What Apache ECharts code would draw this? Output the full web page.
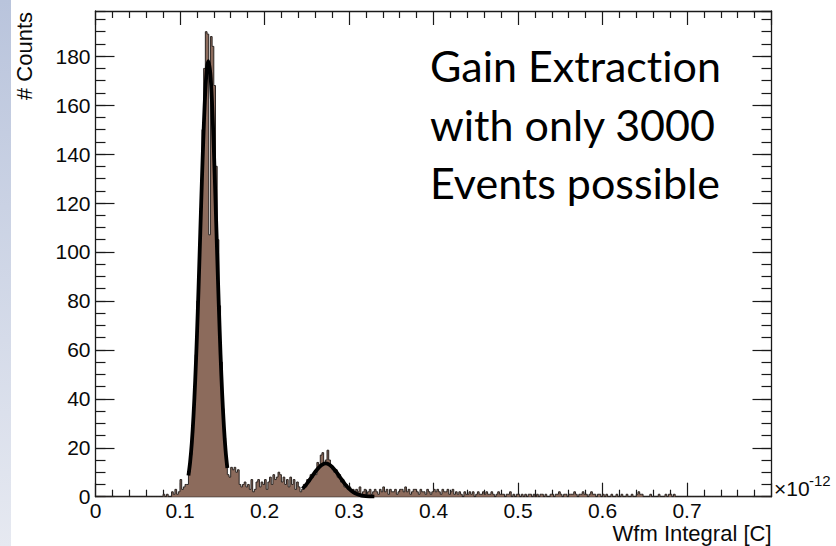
<!DOCTYPE html>
<html>
<head>
<meta charset="utf-8">
<script src="https://cdn.jsdelivr.net/npm/echarts@6/dist/echarts.min.js"></script>
<style>
  html, body { margin: 0; padding: 0; background: #ffffff; }
  #chart { width: 836px; height: 546px; }
  #chart text { font-variant-ligatures: none; font-feature-settings: "liga" 0, "clig" 0; }
</style>
</head>
<body>
<div id="chart"></div>
<script>
// Histogram of waveform integrals: 400 bins of 0.002e-12 C from 0 to 0.8e-12 C
const binStart = 0;
const binWidth = 0.002;
const counts = [
  0, 0, 0, 0, 0, 0, 0, 0, 0, 0,            // 0.000 - 0.020
  0, 0, 0, 0, 0, 0, 0, 0, 0, 0,
  0, 0, 0, 0, 0, 0, 0, 0, 0, 0,
  0, 0, 0, 0, 0, 0, 0, 0, 0, 0,
  1, 0, 1, 0, 0, 2, 1, 3, 1, 2,            // 0.080 - 0.100
  7, 3, 4, 5, 5, 10, 17, 26, 40, 58,
  80, 98, 118, 150, 175, 190, 189, 107, 188, 184,
  168, 135, 105, 78, 55, 36, 24, 15, 9, 8,
  12, 11, 12, 10, 11, 5, 4, 5, 6, 4,
  5, 3, 7, 2, 3, 6, 7, 4, 6, 5,
  7, 3, 6, 8, 5, 9, 7, 8, 10, 9,           // 0.200 - 0.220
  6, 8, 5, 7, 4, 8, 5, 7, 3, 6,
  4, 2, 3, 5, 4, 7, 6, 9, 8, 10,
  9, 14, 13, 17, 18, 14, 15, 19, 15, 12,
  11, 10, 11, 8, 9, 6, 7, 4, 5, 3,
  4, 2, 3, 1, 3, 2, 4, 1, 2, 3,
  1, 2, 3, 1, 2, 3, 2, 1, 3, 2,
  4, 2, 3, 1, 3, 2, 2, 3, 1, 2,
  3, 3, 2, 4, 2, 3, 1, 2, 3, 3,
  2, 1, 3, 2, 2, 1, 3, 2, 1, 2,
  3, 2, 3, 2, 1, 3, 2, 2, 3, 1,            // 0.400 - 0.420
  2, 3, 1, 2, 1, 2, 1, 0, 2, 1,
  1, 2, 1, 2, 0, 1, 2, 1, 1, 2,
  1, 2, 1, 1, 2, 1, 0, 1, 2, 1,
  1, 1, 0, 1, 1, 2, 0, 1, 0, 1,
  1, 0, 1, 0, 1, 0, 1, 1, 0, 1,
  0, 1, 0, 1, 1, 0, 1, 0, 0, 1,
  1, 0, 1, 1, 2, 1, 0, 1, 1, 0,
  1, 1, 1, 2, 1, 0, 1, 1, 2, 1,
  1, 0, 1, 2, 1, 1, 0, 1, 1, 0,
  1, 0, 1, 0, 0, 1, 0, 0, 1, 0,            // 0.600 - 0.620
  0, 1, 0, 0, 1, 0, 0, 1, 0, 0,
  1, 2, 1, 1, 0, 0, 0, 0, 1, 0,
  0, 0, 0, 1, 0, 0, 0, 1, 0, 1,
  1, 0, 1, 0, 0, 0, 0, 0, 0, 0,
  0, 0, 0, 0, 0, 0, 0, 0, 0, 0,
  0, 0, 0, 0, 0, 0, 0, 0, 0, 0,
  0, 0, 0, 0, 0, 0, 0, 0, 0, 0,
  0, 0, 0, 0, 0, 0, 0, 0, 0, 0,
  0, 0, 0, 0, 0, 0, 0, 0, 0, 0
];

// Gaussian fit of the single-photoelectron peak, sampled [x, counts]
const fitPeak1 = [
  [0.110, 8.7], [0.112, 14.2], [0.114, 22.1], [0.116, 33.2], [0.118, 47.5],
  [0.120, 65.2], [0.122, 85.8], [0.124, 108], [0.126, 130], [0.128, 150],
  [0.130, 166], [0.132, 175.5], [0.1336, 178], [0.134, 177.8], [0.136, 172.5],
  [0.138, 160.3], [0.140, 142.5], [0.142, 121.4], [0.144, 99], [0.146, 77.3],
  [0.148, 57.8], [0.150, 41.4], [0.152, 28.4], [0.154, 18.6], [0.156, 11.7]
];

// Gaussian fit of the two-photoelectron peak, sampled [x, counts]
const fitPeak2 = [
  [0.245, 3.28], [0.250, 5.25], [0.255, 7.64], [0.260, 10.13], [0.265, 12.23],
  [0.270, 13.44], [0.2725, 13.6], [0.275, 13.44], [0.280, 12.23], [0.285, 10.13],
  [0.290, 7.64], [0.295, 5.25], [0.300, 3.28], [0.305, 1.86], [0.310, 0.96],
  [0.315, 0.45], [0.320, 0.19], [0.325, 0.08], [0.330, 0.03]
];

const xTickLabels = ['0', '0.1', '0.2', '0.3', '0.4', '0.5', '0.6', '0.7'];
const yTickLabels = ['0', '20', '40', '60', '80', '100', '120', '140', '160', '180'];
const noteLines = ['Gain Extraction', 'with only 3000', 'Events possible'];

const X_MAX = 0.8;
const Y_MAX = 198.45;

// Step outline: each bin starts at its lower edge, last edge closes the histogram
const histPoints = counts.map((c, i) => [binStart + i * binWidth, c]);
histPoints.push([binStart + counts.length * binWidth, counts[counts.length - 1]]);

const axisColor = '#1a1a1a';
const labelFont = 'Liberation Sans, Arial, Helvetica, sans-serif';
const noteFont = 'Lato, Noto Sans, sans-serif';

function frameX(position, showLabels) {
  return {
    type: 'value', position: position, min: 0, max: X_MAX, interval: 0.1,
    axisLine: { show: true, onZero: false, lineStyle: { color: axisColor, width: 1.3 } },
    axisTick: { show: true, inside: true, length: 14, lineStyle: { color: axisColor, width: 1.2 } },
    minorTick: { show: true, splitNumber: 5, length: 7, lineStyle: { color: axisColor, width: 1.2 } },
    splitLine: { show: false }, minorSplitLine: { show: false },
    axisLabel: {
      show: showLabels, margin: 6, showMaxLabel: false, lineHeight: 16,
      fontFamily: labelFont, fontSize: 21, color: '#0a0a0a',
      formatter: v => xTickLabels[Math.round(v * 10)] || ''
    }
  };
}

function frameY(position, interval, len, showLine, showLabels) {
  return {
    type: 'value', position: position, min: 0, max: Y_MAX, interval: interval,
    axisLine: { show: showLine, onZero: false, lineStyle: { color: axisColor, width: 1.3 } },
    axisTick: { show: true, inside: true, length: len, lineStyle: { color: axisColor, width: 1.2 } },
    splitLine: { show: false },
    axisLabel: {
      show: showLabels, margin: 5, showMaxLabel: false,
      fontFamily: labelFont, fontSize: 21, color: '#0a0a0a',
      formatter: v => yTickLabels[Math.round(v / 20)] || ''
    }
  };
}

function noteText(line, y) {
  return {
    type: 'text', x: 430, y: y, z: 10,
    style: { text: line, fontFamily: noteFont, fontSize: 43, fill: '#000000', align: 'left', verticalAlign: 'middle' }
  };
}

const chart = echarts.init(document.getElementById('chart'), null, { renderer: 'svg' });

chart.setOption({
  animation: false,
  backgroundColor: '#ffffff',
  grid: { left: 95.5, right: 64.5, top: 11, bottom: 49.3, containLabel: false },
  xAxis: [frameX('bottom', true), frameX('top', false)],
  yAxis: [
    frameY('left', 20, 19, true, true),
    frameY('left', 5, 10, false, false),
    frameY('right', 20, 19, true, false),
    frameY('right', 5, 10, false, false)
  ],
  series: [
    {
      name: 'counts', type: 'line', step: 'end',
      xAxisIndex: 0, yAxisIndex: 0,
      data: histPoints, showSymbol: false, symbol: 'none',
      lineStyle: { color: '#2b2522', width: 1 },
      areaStyle: { color: '#8c6b5c', opacity: 1 },
      z: 2
    },
    {
      name: 'fit1', type: 'line', xAxisIndex: 0, yAxisIndex: 0,
      data: fitPeak1, smooth: 0.3, showSymbol: false, symbol: 'none',
      lineStyle: { color: '#000000', width: 3.8 }, z: 3
    },
    {
      name: 'fit2', type: 'line', xAxisIndex: 0, yAxisIndex: 0,
      data: fitPeak2, smooth: 0.3, showSymbol: false, symbol: 'none',
      lineStyle: { color: '#000000', width: 3.8 }, z: 3
    }
  ],
  graphic: [
    {
      type: 'rect', left: 0, top: 0, z: 0,
      shape: { width: 11, height: 546 },
      style: {
        fill: new echarts.graphic.LinearGradient(0, 0, 0, 1, [
          { offset: 0, color: '#b9c4dc' },
          { offset: 1, color: '#e6e9f1' }
        ])
      }
    },
    {
      type: 'text', x: 24, y: 12, rotation: Math.PI / 2, z: 10,
      style: { text: '# Counts', fontFamily: labelFont, fontSize: 22, fill: '#0a0a0a', align: 'right', verticalAlign: 'middle' }
    },
    {
      type: 'text', x: 771.5, y: 533, z: 10,
      style: { text: 'Wfm Integral [C]', fontFamily: labelFont, fontSize: 22, lineHeight: 18, fill: '#0a0a0a', align: 'right', verticalAlign: 'middle' }
    },
    {
      type: 'text', x: 774, y: 488, z: 10,
      style: { text: '×10', fontFamily: labelFont, fontSize: 21, fill: '#0a0a0a', align: 'left', verticalAlign: 'middle' }
    },
    {
      type: 'text', x: 809, y: 480, z: 10,
      style: { text: '-12', fontFamily: labelFont, fontSize: 15, fill: '#0a0a0a', align: 'left', verticalAlign: 'middle' }
    },
    noteText(noteLines[0], 65),
    noteText(noteLines[1], 124),
    noteText(noteLines[2], 182)
  ]
});
</script>
</body>
</html>
